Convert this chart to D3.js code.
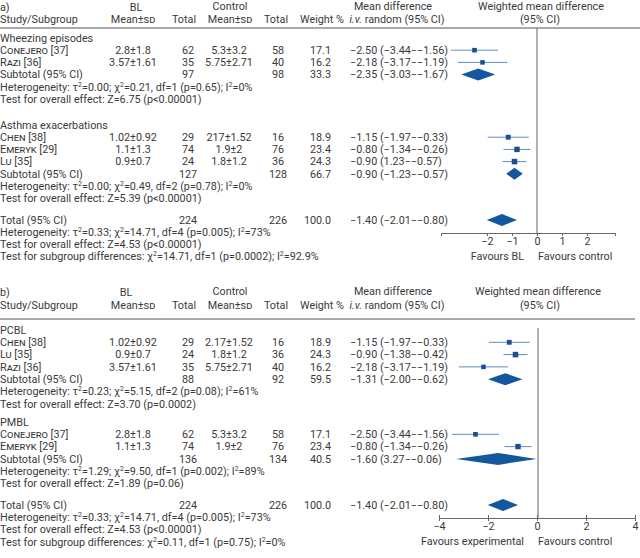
<!DOCTYPE html>
<html><head><meta charset="utf-8">
<script src="https://cdn.jsdelivr.net/npm/d3@7"></script>
<style>
body{margin:0;background:#fff}
svg{font-family:Roboto, sans-serif;font-size:10.8px}
svg text{fill:#3a3a3a}
.sc{font-variant:small-caps}
</style></head><body><svg id="c" width="640" height="558"></svg>
<script>
// ---------- Panel a data ----------
const groupNameA = ["Wheezing episodes", "Asthma exacerbations"];
const studyNameA = ["Conejero", "Razi", "Chen", "Emeryk", "Lu"];
const studyRefA = ["[37]", "[36]", "[38]", "[29]", "[35]"];
const studyGroupA = [0, 0, 1, 1, 1];
const blMeanSdA = ["2.8±1.8", "3.57±1.61", "1.02±0.92", "1.1±1.3", "0.9±0.7"];
const blTotalA = [62, 35, 29, 74, 24];
const ctrlMeanSdA = ["5.3±3.2", "5.75±2.71", "217±1.52", "1.9±2", "1.8±1.2"];
const ctrlTotalA = [58, 40, 16, 76, 36];
const weightA = [17.1, 16.2, 18.9, 23.4, 24.3];
const mdA = [-2.50, -2.18, -1.15, -0.80, -0.90];
const loA = [-3.44, -3.17, -1.97, -1.34, -1.38];
const hiA = [-1.56, -1.19, -0.33, -0.26, -0.42];
const mdTextA = ["−2.50 (−3.44−−1.56)", "−2.18 (−3.17−−1.19)", "−1.15 (−1.97−−0.33)", "−0.80 (−1.34−−0.26)", "−0.90 (1.23−−0.57)"];
const subBlTotalA = [97, 127];
const subCtrlTotalA = [98, 128];
const subWeightA = [33.3, 66.7];
const subMdA = [-2.35, -0.90];
const subLoA = [-3.03, -1.23];
const subHiA = [-1.67, -0.57];
const subMdTextA = ["−2.35 (−3.03−−1.67)", "−0.90 (−1.23−−0.57)"];
const hetA = ["Heterogeneity: τ²=0.00; χ²=0.21, df=1 (p=0.65); I²=0%", "Heterogeneity: τ²=0.00; χ²=0.49, df=2 (p=0.78); I²=0%"];
const effectA = ["Test for overall effect: Z=6.75 (p<0.00001)", "Test for overall effect: Z=5.39 (p<0.00001)"];
const subgroupDiffA = "Test for subgroup differences: χ²=14.71, df=1 (p=0.0002); I²=92.9%";
const favoursA = ["Favours BL", "Favours control"];
const ticksA = [-2, -1, 0, 1, 2];

// ---------- Panel b data ----------
const groupNameB = ["PCBL", "PMBL"];
const studyNameB = ["Chen", "Lu", "Razi", "Conejero", "Emeryk"];
const studyRefB = ["[38]", "[35]", "[36]", "[37]", "[29]"];
const studyGroupB = [0, 0, 0, 1, 1];
const blMeanSdB = ["1.02±0.92", "0.9±0.7", "3.57±1.61", "2.8±1.8", "1.1±1.3"];
const blTotalB = [29, 24, 35, 62, 74];
const ctrlMeanSdB = ["2.17±1.52", "1.8±1.2", "5.75±2.71", "5.3±3.2", "1.9±2"];
const ctrlTotalB = [16, 36, 40, 58, 76];
const weightB = [18.9, 24.3, 16.2, 17.1, 23.4];
const mdB = [-1.15, -0.90, -2.18, -2.50, -0.80];
const loB = [-1.97, -1.38, -3.17, -3.44, -1.34];
const hiB = [-0.33, -0.42, -1.19, -1.56, -0.26];
const mdTextB = ["−1.15 (−1.97−−0.33)", "−0.90 (−1.38−−0.42)", "−2.18 (−3.17−−1.19)", "−2.50 (−3.44−−1.56)", "−0.80 (−1.34−−0.26)"];
const subBlTotalB = [88, 136];
const subCtrlTotalB = [92, 134];
const subWeightB = [59.5, 40.5];
const subMdB = [-1.31, -1.60];
const subLoB = [-2.00, -3.27];
const subHiB = [-0.62, -0.06];
const subMdTextB = ["−1.31 (−2.00−−0.62)", "−1.60 (3.27−−0.06)"];
const hetB = ["Heterogeneity: τ²=0.23; χ²=5.15, df=2 (p=0.08); I²=61%", "Heterogeneity: τ²=1.29; χ²=9.50, df=1 (p=0.002); I²=89%"];
const effectB = ["Test for overall effect: Z=3.70 (p=0.0002)", "Test for overall effect: Z=1.89 (p=0.06)"];
const subgroupDiffB = "Test for subgroup differences: χ²=0.11, df=1 (p=0.75); I²=0%";
const favoursB = ["Favours experimental", "Favours control"];
const ticksB = [-4, -2, 0, 2, 4];

// ---------- Overall (both panels) ----------
const totalBl = 224, totalCtrl = 226, totalWeight = 100.0;
const totalMd = -1.40, totalLo = -2.01, totalHi = -0.80;
const totalMdText = "−1.40 (−2.01−−0.80)";
const totalHet = "Heterogeneity: τ²=0.33; χ²=14.71, df=4 (p=0.005); I²=73%";
const totalEffect = "Test for overall effect: Z=4.53 (p<0.00001)";

const svg = d3.select("#c");
const C_LINE = "#5a8fc6", C_SQ = "#1d4f8d", C_DIA = "#13579f", C_AX = "#666";
const sizeScale = d3.scaleSqrt().domain([0, 25]).range([0, 5.6]);

function txt(g, x, y, s, anchor, cls) {
  return g.append("text").attr("x", x).attr("y", y).attr("dy", "0.35em")
    .attr("text-anchor", anchor || "start").attr("class", cls || null).text(s);
}
// text with superscript "2"
function supTxt(g, x, y, s) {
  const t = g.append("text").attr("x", x).attr("y", y).attr("dy", "0.35em");
  const parts = s.split("²");
  parts.forEach((p, i) => {
    t.append("tspan").text(p);
    if (i < parts.length - 1) t.append("tspan").attr("font-size", "7px").attr("baseline-shift", "super").text("2");
  });
  return t;
}
function meanSd(g, x, y, label) {
  const t = g.append("text").attr("x", x).attr("y", y).attr("dy", "0.35em").attr("text-anchor", "middle");
  t.append("tspan").text(label);
  t.append("tspan").attr("class", "sc").text("sd");
}
function study(g, x, y, name, ref) {
  const t = g.append("text").attr("x", x).attr("y", y).attr("dy", "0.35em");
  t.append("tspan").attr("class", "sc").text(name);
  t.append("tspan").text(" " + ref);
}

function panel(cfg, d) {
  const g = svg.append("g");
  const x = d3.scaleLinear().domain([0, 1]).range([cfg.zero, cfg.zero + 25]);
  // header
  txt(g, 0, cfg.h1, cfg.label);
  txt(g, cfg.blX, cfg.h1, "BL", "middle");
  txt(g, 230, cfg.h1 - 1, "Control", "middle");
  txt(g, 393, cfg.h1 - 1, "Mean difference", "middle");
  txt(g, cfg.wmdX, cfg.h1 - 1, "Weighted mean difference", "middle");
  txt(g, 0, cfg.h2, "Study/Subgroup");
  meanSd(g, 133, cfg.h2, "Mean±");
  txt(g, 184, cfg.h2, "Total", "middle");
  meanSd(g, 230, cfg.h2, "Mean±");
  txt(g, 276, cfg.h2, "Total", "middle");
  txt(g, 300, cfg.h2, "Weight %");
  const iv = g.append("text").attr("x", 397).attr("y", cfg.h2).attr("dy", "0.35em").attr("text-anchor", "middle");
  iv.append("tspan").attr("font-style", "italic").text("i.v.");
  iv.append("tspan").text(" random (95% CI)");
  txt(g, 540, cfg.h2, "(95% CI)", "middle");
  g.append("line").attr("x1", 0).attr("x2", cfg.hlineEnd).attr("y1", cfg.hline).attr("y2", cfg.hline)
    .attr("stroke", "#555").attr("stroke-width", 1);
  // zero line
  g.append("line").attr("x1", x(0)).attr("x2", x(0)).attr("y1", cfg.vTop).attr("y2", cfg.axisY)
    .attr("stroke", C_AX).attr("stroke-width", 1);

  function rowCols(y, blSd, blN, cSd, cN, w, mdT) {
    if (blSd) txt(g, 133, y, blSd, "middle");
    txt(g, 188, y, blN, "middle");
    if (cSd) txt(g, 229, y, cSd, "middle");
    txt(g, 278, y, cN, "middle");
    txt(g, 331, y, w.toFixed(1), "end");
    txt(g, 350, y, mdT);
  }
  function diamond(y, m, lo, hi) {
    g.append("path").attr("d", d3.line()([[x(lo), y], [x(m), y - 6], [x(hi), y], [x(m), y + 6]]) + "Z")
      .attr("fill", C_DIA);
  }

  d.groupName.forEach((gn, gi) => {
    const gy = cfg.groupY[gi];
    txt(g, 0, gy, gn);
    const idx = d3.range(d.name.length).filter(i => d.group[i] === gi);
    idx.forEach((i, k) => {
      const y = gy + cfg.step * (k + 1);
      study(g, 0, y, d.name[i], d.ref[i]);
      rowCols(y, d.blSd[i], d.blN[i], d.cSd[i], d.cN[i], d.w[i], d.mdT[i]);
      g.append("line").attr("x1", x(d.lo[i])).attr("x2", x(d.hi[i])).attr("y1", y).attr("y2", y)
        .attr("stroke", C_LINE).attr("stroke-width", 1);
      const s = sizeScale(d.w[i]);
      g.append("rect").attr("x", x(d.md[i]) - s / 2).attr("y", y - s / 2).attr("width", s).attr("height", s)
        .attr("fill", C_SQ);
    });
    const n = idx.length;
    const sy = gy + cfg.step * (n + 1);
    txt(g, 0, sy, "Subtotal (95% CI)");
    rowCols(sy, null, d.subBl[gi], null, d.subC[gi], d.subW[gi], d.subMdT[gi]);
    diamond(sy, d.subMd[gi], d.subLo[gi], d.subHi[gi]);
    supTxt(g, 0, sy + cfg.step, d.het[gi]);
    txt(g, 0, sy + cfg.step * 2, d.eff[gi]);
  });
  // total
  const ty = cfg.totalY;
  txt(g, 0, ty, "Total (95% CI)");
  rowCols(ty, null, totalBl, null, totalCtrl, totalWeight, totalMdText);
  diamond(ty, totalMd, totalLo, totalHi);
  supTxt(g, 0, ty + cfg.step, totalHet);
  txt(g, 0, ty + cfg.step * 2, totalEffect);
  supTxt(g, 0, ty + cfg.step * 3, d.subDiff);

  // axis
  const ax = g.append("g").attr("transform", `translate(0,${cfg.axisY})`).call(cfg.axis(x));
  ax.attr("font-family", null).attr("font-size", null);
  ax.select(".domain").attr("stroke", C_AX);
  ax.selectAll(".tick line").attr("stroke", C_AX).attr("y1", cfg.tickUp).attr("y2", 3);
  ax.selectAll(".tick text").attr("y", 4).attr("dy", "0.71em").attr("fill", "#3a3a3a");
  txt(g, 524, cfg.favY, d.fav[0], "end");
  txt(g, 538, cfg.favY, d.fav[1], "start");
}

panel({
  label: "a)", blX: 136, wmdX: 541, h1: 7, h2: 19.5, hline: 28, hlineEnd: 640, vTop: 28,
  zero: 537, step: 12.2, groupY: [38, 125], totalY: 220, axisY: 233, favY: 256, tickUp: 0,
  axis: x => {
    const s = x.copy().domain([x.invert(441), x.invert(615)]).range([441, 615]);
    return d3.axisBottom(s).tickValues(ticksA).tickFormat(d3.format("~g")).tickSizeOuter(0).tickSize(3);
  }
}, {
  groupName: groupNameA, name: studyNameA, ref: studyRefA, group: studyGroupA,
  blSd: blMeanSdA, blN: blTotalA, cSd: ctrlMeanSdA, cN: ctrlTotalA, w: weightA,
  md: mdA, lo: loA, hi: hiA, mdT: mdTextA,
  subBl: subBlTotalA, subC: subCtrlTotalA, subW: subWeightA, subMd: subMdA, subLo: subLoA, subHi: subHiA,
  subMdT: subMdTextA, het: hetA, eff: effectA, subDiff: subgroupDiffA, fav: favoursA
});

panel({
  label: "b)", blX: 126, wmdX: 538, h1: 292, h2: 305, hline: 319, hlineEnd: 635, vTop: 328,
  zero: 538, step: 12.3, groupY: [330, 422], totalY: 505, axisY: 518, favY: 541, tickUp: -3,
  axis: x => {
    const s = d3.scaleLinear().domain([-4, 4]).range([439, 635]);
    return d3.axisBottom(s).tickValues(ticksB).tickFormat(d3.format("~g")).tickSizeOuter(0).tickSize(3);
  }
}, {
  groupName: groupNameB, name: studyNameB, ref: studyRefB, group: studyGroupB,
  blSd: blMeanSdB, blN: blTotalB, cSd: ctrlMeanSdB, cN: ctrlTotalB, w: weightB,
  md: mdB, lo: loB, hi: hiB, mdT: mdTextB,
  subBl: subBlTotalB, subC: subCtrlTotalB, subW: subWeightB, subMd: subMdB, subLo: subLoB, subHi: subHiB,
  subMdT: subMdTextB, het: hetB, eff: effectB, subDiff: subgroupDiffB, fav: favoursB
});
</script></body></html>
